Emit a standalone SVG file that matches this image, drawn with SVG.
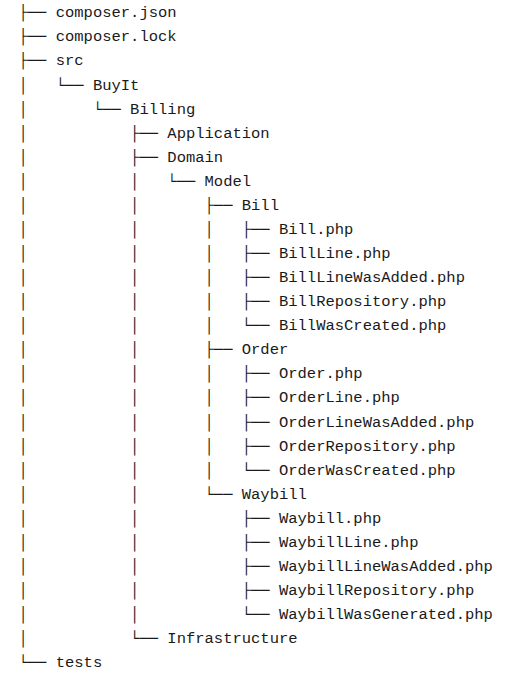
<svg xmlns="http://www.w3.org/2000/svg" width="531" height="676" viewBox="0 0 531 676">
<style>
text{font-family:"Liberation Mono","DejaVu Sans Mono",monospace;font-size:15.5px;fill:#1a1a1a;white-space:pre}
</style>
<rect width="531" height="676" fill="#fff"/>
<g id="tree" xml:space="preserve">
<text x="18.5" y="17.3">├── composer.json</text>
<text x="18.5" y="41.4">├── composer.lock</text>
<text x="18.5" y="65.4">├── src</text>
<text x="18.5" y="89.5">│   └── BuyIt</text>
<text x="18.5" y="113.6">│       └── Billing</text>
<text x="18.5" y="137.6">│           ├── Application</text>
<text x="18.5" y="161.7">│           ├── Domain</text>
<text x="18.5" y="185.8">│           │   └── Model</text>
<text x="18.5" y="209.9">│           │       ├── Bill</text>
<text x="18.5" y="233.9">│           │       │   ├── Bill.php</text>
<text x="18.5" y="258.0">│           │       │   ├── BillLine.php</text>
<text x="18.5" y="282.1">│           │       │   ├── BillLineWasAdded.php</text>
<text x="18.5" y="306.1">│           │       │   ├── BillRepository.php</text>
<text x="18.5" y="330.2">│           │       │   └── BillWasCreated.php</text>
<text x="18.5" y="354.3">│           │       ├── Order</text>
<text x="18.5" y="378.4">│           │       │   ├── Order.php</text>
<text x="18.5" y="402.4">│           │       │   ├── OrderLine.php</text>
<text x="18.5" y="426.5">│           │       │   ├── OrderLineWasAdded.php</text>
<text x="18.5" y="450.6">│           │       │   ├── OrderRepository.php</text>
<text x="18.5" y="474.6">│           │       │   └── OrderWasCreated.php</text>
<text x="18.5" y="498.7">│           │       └── Waybill</text>
<text x="18.5" y="522.8">│           │           ├── Waybill.php</text>
<text x="18.5" y="546.9">│           │           ├── WaybillLine.php</text>
<text x="18.5" y="570.9">│           │           ├── WaybillLineWasAdded.php</text>
<text x="18.5" y="595.0">│           │           ├── WaybillRepository.php</text>
<text x="18.5" y="619.1">│           │           └── WaybillWasGenerated.php</text>
<text x="18.5" y="643.1">│           └── Infrastructure</text>
<text x="18.5" y="667.2">└── tests</text>
</g>
</svg>
